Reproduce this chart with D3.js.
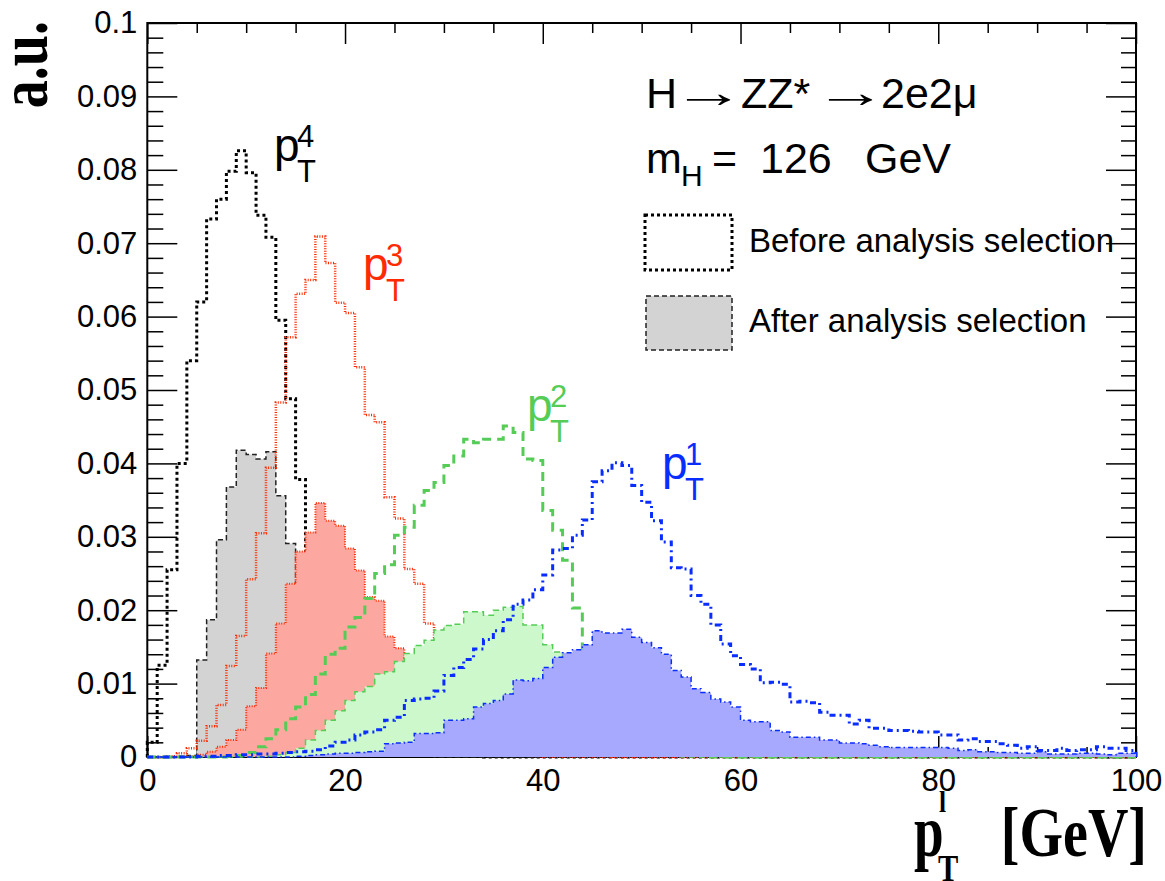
<!DOCTYPE html>
<html>
<head>
<meta charset="utf-8">
<script src="https://cdn.jsdelivr.net/npm/d3@7"></script>
<style>
  html, body { margin: 0; padding: 0; background: #ffffff; }
  svg { display: block; }
  .sans { font-family: "Liberation Sans", Arial, Helvetica, sans-serif; }
  .serif { font-family: "Liberation Serif", "Times New Roman", serif; font-weight: bold; }
</style>
</head>
<body>
<svg id="chart" width="1165" height="881"></svg>
<script>
// ---- binning: 100 bins of 1 GeV from 0 to 100 GeV ----
const xMin = 0;
const xMax = 100;
const nBins = 100;

// ---- y axis ----
const yMax = 0.1;
const yTicks = [0, 0.01, 0.02, 0.03, 0.04, 0.05, 0.06, 0.07, 0.08, 0.09, 0.1];
const yTickLabels = ["0", "0.01", "0.02", "0.03", "0.04", "0.05", "0.06", "0.07", "0.08", "0.09", "0.1"];
const xTicks = [0, 20, 40, 60, 80, 100];
const xTickLabels = ["0", "20", "40", "60", "80", "100"];

// ---- 4th leading lepton pT ----
const pt4Before = [
  0.002, 0.0125, 0.0255, 0.040, 0.054, 0.062, 0.0733, 0.076, 0.0798, 0.0826,
  0.0796, 0.0738, 0.0708, 0.0595, 0.0488, 0.0378, 0.027, 0.019, 0.013, 0.0088,
  0.006, 0.004, 0.0028, 0.002, 0.0014, 0.001, 0.0007, 0.0005, 0.0004, 0.0003,
  0.0002, 0.0002, 0.0001, 0.0001, 0, 0, 0, 0, 0, 0,
  0, 0, 0, 0, 0, 0, 0, 0, 0, 0,
  0, 0, 0, 0, 0, 0, 0, 0, 0, 0,
  0, 0, 0, 0, 0, 0, 0, 0, 0, 0,
  0, 0, 0, 0, 0, 0, 0, 0, 0, 0,
  0, 0, 0, 0, 0, 0, 0, 0, 0, 0,
  0, 0, 0, 0, 0, 0, 0, 0, 0, 0
];
const pt4After = [
  0, 0, 0, 0.0001, 0.0002, 0.0132, 0.0187, 0.0296, 0.0368, 0.0418,
  0.0412, 0.0406, 0.0416, 0.0356, 0.0291, 0.022, 0.016, 0.011, 0.0075, 0.005,
  0.0033, 0.0022, 0.0015, 0.001, 0.0007, 0.0005, 0.0003, 0.0002, 0.0001, 0,
  0, 0, 0, 0, 0, 0, 0, 0, 0, 0,
  0, 0, 0, 0, 0, 0, 0, 0, 0, 0,
  0, 0, 0, 0, 0, 0, 0, 0, 0, 0,
  0, 0, 0, 0, 0, 0, 0, 0, 0, 0,
  0, 0, 0, 0, 0, 0, 0, 0, 0, 0,
  0, 0, 0, 0, 0, 0, 0, 0, 0, 0,
  0, 0, 0, 0, 0, 0, 0, 0, 0, 0
];

// ---- 3rd leading lepton pT ----
const pt3Before = [
  0, 0, 0.0001, 0.0005, 0.0012, 0.0022, 0.0042, 0.0071, 0.0124, 0.0165,
  0.0242, 0.0305, 0.0394, 0.0483, 0.0572, 0.0631, 0.065, 0.0709, 0.0673, 0.0619,
  0.0605, 0.0531, 0.0466, 0.0456, 0.0354, 0.0325, 0.0256, 0.0236, 0.0182, 0.015,
  0.012, 0.009, 0.007, 0.0054, 0.004, 0.003, 0.0022, 0.0016, 0.0012, 0.0009,
  0.0007, 0.0005, 0.0004, 0.0003, 0.0002, 0.0002, 0.0001, 0, 0, 0,
  0, 0, 0, 0, 0, 0, 0, 0, 0, 0,
  0, 0, 0, 0, 0, 0, 0, 0, 0, 0,
  0, 0, 0, 0, 0, 0, 0, 0, 0, 0,
  0, 0, 0, 0, 0, 0, 0, 0, 0, 0,
  0, 0, 0, 0, 0, 0, 0, 0, 0, 0
];
const pt3After = [
  0, 0, 0, 0, 0.0001, 0.0003, 0.0007, 0.0014, 0.0023, 0.0037,
  0.0069, 0.0094, 0.0141, 0.0182, 0.0236, 0.028, 0.0306, 0.0346, 0.0322, 0.0315,
  0.0284, 0.0254, 0.0218, 0.0213, 0.0164, 0.0148, 0.0135, 0.011, 0.0085, 0.0062,
  0.0045, 0.0033, 0.0024, 0.0017, 0.0012, 0.0008, 0.0005, 0.0003, 0.0002, 0.0001,
  0, 0, 0, 0, 0, 0, 0, 0, 0, 0,
  0, 0, 0, 0, 0, 0, 0, 0, 0, 0,
  0, 0, 0, 0, 0, 0, 0, 0, 0, 0,
  0, 0, 0, 0, 0, 0, 0, 0, 0, 0,
  0, 0, 0, 0, 0, 0, 0, 0, 0, 0,
  0, 0, 0, 0, 0, 0, 0, 0, 0, 0
];

// ---- 2nd leading lepton pT ----
const pt2Before = [
  0, 0, 0, 0, 0, 0, 0, 0, 0.0001, 0.0002,
  0.0006, 0.0014, 0.0025, 0.0037, 0.0052, 0.0068, 0.0085, 0.0113, 0.014, 0.0148,
  0.0177, 0.019, 0.0216, 0.025, 0.0262, 0.0302, 0.0313, 0.0343, 0.0363, 0.0374,
  0.0397, 0.041, 0.0433, 0.0428, 0.0433, 0.0433, 0.0451, 0.0442, 0.0406, 0.0404,
  0.0336, 0.0309, 0.0268, 0.0203, 0.014, 0.010, 0.007, 0.005, 0.0035, 0.0025,
  0.0017, 0.0012, 0.0008, 0.0005, 0.0003, 0.0002, 0.0001, 0, 0, 0,
  0, 0, 0, 0, 0, 0, 0, 0, 0, 0,
  0, 0, 0, 0, 0, 0, 0, 0, 0, 0,
  0, 0, 0, 0, 0, 0, 0, 0, 0, 0,
  0, 0, 0, 0, 0, 0, 0, 0, 0, 0
];
const pt2After = [
  0, 0, 0, 0, 0, 0, 0, 0, 0, 0,
  0, 0, 0.0001, 0.0003, 0.0006, 0.0012, 0.0023, 0.0036, 0.005, 0.0063,
  0.0077, 0.0089, 0.0096, 0.0113, 0.0116, 0.013, 0.0141, 0.0152, 0.0159, 0.0173,
  0.0179, 0.0181, 0.0198, 0.0198, 0.0193, 0.02, 0.0204, 0.0205, 0.018, 0.018,
  0.0153, 0.0143, 0.011, 0.009, 0.007, 0.005, 0.0035, 0.0025, 0.0017, 0.0011,
  0.0007, 0.0004, 0.0002, 0.0001, 0, 0, 0, 0, 0, 0,
  0, 0, 0, 0, 0, 0, 0, 0, 0, 0,
  0, 0, 0, 0, 0, 0, 0, 0, 0, 0,
  0, 0, 0, 0, 0, 0, 0, 0, 0, 0,
  0, 0, 0, 0, 0, 0, 0, 0, 0, 0
];

// ---- leading lepton pT ----
const pt1Before = [
  0, 0, 0, 0, 0, 0.0001, 0.0001, 0.0002, 0.0002, 0.0003,
  0.0003, 0.0004, 0.0004, 0.0005, 0.0006, 0.0007, 0.0008, 0.001, 0.0015, 0.002,
  0.0023, 0.003, 0.0034, 0.0037, 0.005, 0.0054, 0.0077, 0.0079, 0.008, 0.009,
  0.0111, 0.0122, 0.0133, 0.0147, 0.016, 0.0172, 0.0187, 0.0208, 0.0214, 0.0228,
  0.0248, 0.0282, 0.0284, 0.0302, 0.0323, 0.0375, 0.039, 0.0401, 0.0397, 0.037,
  0.0347, 0.0322, 0.0293, 0.0258, 0.0256, 0.022, 0.0208, 0.018, 0.0154, 0.0138,
  0.0126, 0.012, 0.0101, 0.0102, 0.0099, 0.0075, 0.0076, 0.0074, 0.0061, 0.0057,
  0.0057, 0.0045, 0.005, 0.0039, 0.0039, 0.0036, 0.0036, 0.0035, 0.0034, 0.0034,
  0.003, 0.003, 0.0023, 0.0025, 0.0021, 0.0021, 0.0018, 0.0016, 0.0012, 0.0014,
  0.0009, 0.0009, 0.0012, 0.0009, 0.001, 0.001, 0.0014, 0.0012, 0.0012, 0.0009
];
const pt1After = [
  0, 0, 0, 0, 0, 0, 0, 0, 0, 0,
  0, 0, 0, 0, 0, 0.0001, 0.0002, 0.0003, 0.0004, 0.0005,
  0.0005, 0.0006, 0.0007, 0.0008, 0.0018, 0.0019, 0.002, 0.0032, 0.0032, 0.0033,
  0.005, 0.005, 0.0052, 0.0068, 0.0073, 0.0077, 0.0086, 0.0105, 0.0104, 0.0107,
  0.0122, 0.0136, 0.0142, 0.0146, 0.0153, 0.0172, 0.0169, 0.0169, 0.0174, 0.0163,
  0.0156, 0.0149, 0.014, 0.0118, 0.0109, 0.0093, 0.0088, 0.0079, 0.0075, 0.0068,
  0.005, 0.0048, 0.0048, 0.0036, 0.0034, 0.0027, 0.0027, 0.0027, 0.0023, 0.0023,
  0.0019, 0.0019, 0.0018, 0.0016, 0.0014, 0.0013, 0.0013, 0.0013, 0.0013, 0.0013,
  0.0013, 0.0012, 0.0009, 0.001, 0.0007, 0.0007, 0.0006, 0.0006, 0.0005, 0.0005,
  0.0007, 0.0004, 0.0004, 0.0004, 0.0005, 0.0005, 0.0004, 0.0003, 0.0005, 0.0005
];

// ---- frame geometry ----
const frame = { left: 147.3, right: 1136, top: 23, bottom: 757 };
const svg = d3.select("#chart");

const x = d3.scaleLinear().domain([xMin, xMax]).range([frame.left, frame.right]);
const y = d3.scaleLinear().domain([0, yMax]).range([frame.bottom, frame.top]);
const binWidth = (xMax - xMin) / nBins;

// ---- axes (drawn first, histograms overlay them) ----
const axes = svg.append("g").attr("class", "axes");

const yMinor = d3.range(0, 51).map(i => i * 0.002).filter((v, i) => i % 5 !== 0);
const xMinor = d3.range(0, 21).map(i => i * 5).filter(v => v % 20 !== 0);

function styleAxis(g) {
  g.select(".domain").remove();
  g.selectAll(".tick line").attr("stroke", "#000").attr("stroke-width", 1.5);
  g.selectAll(".tick text")
    .attr("class", "sans")
    .attr("fill", "#000")
    .style("font-size", "31px");
}

// left axis: major + labels
axes.append("g")
  .attr("transform", `translate(${frame.left},0)`)
  .call(d3.axisLeft(y).tickValues(yTicks).tickSize(-30).tickPadding(10)
    .tickFormat((d, i) => yTickLabels[i]))
  .call(styleAxis);
axes.append("g")
  .attr("transform", `translate(${frame.left},0)`)
  .call(d3.axisLeft(y).tickValues(yMinor).tickSize(-16).tickFormat(""))
  .call(styleAxis);
// right axis: ticks only
axes.append("g")
  .attr("transform", `translate(${frame.right},0)`)
  .call(d3.axisRight(y).tickValues(yTicks).tickSize(-30).tickFormat(""))
  .call(styleAxis);
axes.append("g")
  .attr("transform", `translate(${frame.right},0)`)
  .call(d3.axisRight(y).tickValues(yMinor).tickSize(-15).tickFormat(""))
  .call(styleAxis);
// bottom axis: major + labels
axes.append("g")
  .attr("transform", `translate(0,${frame.bottom})`)
  .call(d3.axisBottom(x).tickValues(xTicks).tickSize(-21).tickPadding(12)
    .tickFormat((d, i) => xTickLabels[i]))
  .call(styleAxis);
axes.append("g")
  .attr("transform", `translate(0,${frame.bottom})`)
  .call(d3.axisBottom(x).tickValues(xMinor).tickSize(-10).tickFormat(""))
  .call(styleAxis);
// top axis: ticks only
axes.append("g")
  .attr("transform", `translate(0,${frame.top})`)
  .call(d3.axisTop(x).tickValues(xTicks).tickSize(-21).tickFormat(""))
  .call(styleAxis);
axes.append("g")
  .attr("transform", `translate(0,${frame.top})`)
  .call(d3.axisTop(x).tickValues(xMinor).tickSize(-10).tickFormat(""))
  .call(styleAxis);

axes.append("rect")
  .attr("x", frame.left).attr("y", frame.top)
  .attr("width", frame.right - frame.left)
  .attr("height", frame.bottom - frame.top)
  .attr("fill", "none").attr("stroke", "#000").attr("stroke-width", 2);

// ---- step histograms ----
function stepPoints(vals) {
  const pts = [[xMin, 0]];
  vals.forEach((v, i) => {
    const lo = xMin + i * binWidth;
    pts.push([lo, v], [lo + binWidth, v]);
  });
  pts.push([xMax, 0]);
  return pts;
}
const stepLine = d3.line().x(d => x(d[0])).y(d => y(d[1]));

const hists = svg.append("g").attr("class", "hists");

function drawOutline(vals, color, width, dash) {
  hists.append("path")
    .attr("d", stepLine(stepPoints(vals)))
    .attr("fill", "none")
    .attr("stroke", color)
    .attr("stroke-width", width)
    .attr("stroke-dasharray", dash)
    .attr("stroke-linejoin", "miter");
}
function drawFilled(vals, fill, color, width, dash) {
  hists.append("path")
    .attr("d", stepLine(stepPoints(vals)) + "Z")
    .attr("fill", fill)
    .attr("stroke", "none");
  drawOutline(vals, color, width, dash);
}

const cBlack = "#000000";
const cRed = "#ff2a00";
const cGreen = "#55cc55";
const cBlue = "#0a2dff";

drawOutline(pt4Before, cBlack, 3, "3,3");
drawFilled(pt4After, "#d3d3d3", "#222222", 1.5, "5,3");
drawOutline(pt3Before, cRed, 2.5, "1,1.5");
drawFilled(pt3After, "#fca8a1", cRed, 2, "1,1.5");
drawOutline(pt2Before, cGreen, 3, "9,6");
drawFilled(pt2After, "#ccf8cc", cGreen, 1.5, "6,4");
drawOutline(pt1Before, cBlue, 3, "6,4,2,4");
drawFilled(pt1After, "#a6a9fd", cBlue, 1.5, "5,3,1.5,3");

// ---- series labels p_T^n ----
const labels = svg.append("g").attr("class", "sans");
function ptLabel(px, baseline, idx, color) {
  const g = labels.append("g").attr("fill", color);
  g.append("text").attr("x", px - 3).attr("y", baseline)
    .style("font-size", "46px").text("p");
  g.append("text").attr("x", px + 20).attr("y", baseline - 14)
    .style("font-size", "31px").text(idx);
  g.append("text").attr("x", px + 20).attr("y", baseline + 21)
    .style("font-size", "31px").text("T");
}
ptLabel(277, 161, "4", cBlack);
ptLabel(366, 280, "3", cRed);
ptLabel(530, 421, "2", cGreen);
ptLabel(665, 479, "1", cBlue);

// ---- process text ----
const info = svg.append("g").attr("class", "sans").attr("fill", "#000");
const line1 = 108;
info.append("text").attr("x", 646).attr("y", line1).style("font-size", "43px").text("H");
info.append("text").attr("transform", `translate(672,${line1 - 1}) scale(1.7,1)`)
  .style("font-size", "43px").text("\u2192");
info.append("text").attr("x", 741).attr("y", line1).style("font-size", "43px").text("ZZ*");
info.append("text").attr("transform", `translate(814,${line1 - 1}) scale(1.7,1)`)
  .style("font-size", "43px").text("\u2192");
info.append("text").attr("x", 881).attr("y", line1).style("font-size", "43px").text("2e2\u03bc");

const line2 = 173;
info.append("text").attr("x", 646).attr("y", line2).style("font-size", "43px").text("m");
info.append("text").attr("x", 681).attr("y", line2 + 13).style("font-size", "30px").text("H");
info.append("text").attr("x", 712).attr("y", line2).style("font-size", "43px").text("=");
info.append("text").attr("x", 760).attr("y", line2).style("font-size", "43px").text("126");
info.append("text").attr("x", 865).attr("y", line2).style("font-size", "43px").text("GeV");

// ---- legend ----
const legend = svg.append("g");
legend.append("rect")
  .attr("x", 645).attr("y", 215).attr("width", 87).attr("height", 55)
  .attr("fill", "none").attr("stroke", "#000").attr("stroke-width", 3)
  .attr("stroke-dasharray", "3,3");
legend.append("rect")
  .attr("x", 646).attr("y", 296).attr("width", 86).attr("height", 54)
  .attr("fill", "#d3d3d3").attr("stroke", "#222").attr("stroke-width", 1.5)
  .attr("stroke-dasharray", "5,3");
legend.append("text").attr("class", "sans").attr("x", 749).attr("y", 252)
  .style("font-size", "33px").text("Before analysis selection");
legend.append("text").attr("class", "sans").attr("x", 749).attr("y", 332)
  .style("font-size", "33px").text("After analysis selection");

// ---- axis titles (condensed bold serif) ----
svg.append("text").attr("class", "serif")
  .attr("transform", "translate(47,21) rotate(-90) scale(0.8,1)")
  .attr("text-anchor", "end")
  .style("font-size", "70px")
  .text("a.u.");

const xt = svg.append("g").attr("class", "serif").attr("fill", "#000");
xt.append("text").attr("transform", "translate(914,856) scale(0.72,1)")
  .style("font-size", "74px").text("p");
xt.append("text").attr("transform", "translate(939,812) scale(0.85,1)")
  .style("font-size", "30px").text("l");
xt.append("text").attr("transform", "translate(938,881) scale(0.8,1)")
  .style("font-size", "38px").text("T");
xt.append("text").attr("transform", "translate(1147,856) scale(0.8,1)")
  .attr("text-anchor", "end")
  .style("font-size", "70px").text("[GeV]");
</script>
</body>
</html>
